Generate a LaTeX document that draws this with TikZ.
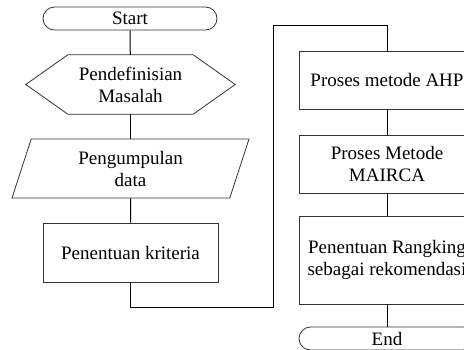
\documentclass[tikz,border=0pt]{standalone}
\usepackage{fontspec}
\setmainfont{Liberation Serif}
\usetikzlibrary{shapes.geometric,calc}
\tikzset{
  flowbox/.style={
    rectangle, draw=#1, line width=0.8pt,
    minimum width=176pt, minimum height=58pt,
    align=center, inner sep=2pt
  },
  flowbox/.default=black!80,
  termbox/.style={
    flowbox, rounded corners=11.5pt, minimum height=23pt
  },
  iobox/.style={
    trapezium, draw=black!80, line width=0.8pt,
    trapezium left angle=64, trapezium right angle=116,
    trapezium stretches body,
    minimum width=237pt, minimum height=59pt,
    align=center, inner sep=2pt
  },
  hexcore/.style={
    rectangle, minimum width=125pt, minimum height=59pt,
    align=center, inner sep=0pt
  },
  flowline/.style={
    line width=1pt, color=black
  },
}

\begin{document}
\begin{tikzpicture}[x=1pt, y=1pt, font=\fontsize{19}{22}\selectfont]
  \useasboundingbox (0,0) rectangle (464,-349);
  \clip (0,0) rectangle (464,-349);
  % left column
  \node[termbox, minimum width=174pt] (start) at (130,-18.5) {Start};
  \node[hexcore] (hexa) at (130.5,-84.5) {Pendefinisian\\Masalah};
  \draw[black!80, line width=0.8pt] (hexa.north west) -- (hexa.north east)
    -- ($(hexa.east)+(42,0)$) -- (hexa.south east) -- (hexa.south west)
    -- ($(hexa.west)+(-42,0)$) -- cycle;
  \node[iobox] (pengum) at (130.5,-168.5) {Pengumpulan\\data};
  \node[flowbox, minimum width=175pt, minimum height=59pt] (kriteria) at (130.5,-252.5) {Penentuan kriteria};
  % right column
  \node[flowbox] (ahp) at (387,-80) {Proses metode AHP};
  \node[flowbox] (mairca) at (387,-164) {Proses Metode\\MAIRCA};
  \node[flowbox, minimum height=88pt] (rangking) at (387,-260) {Penentuan Rangking\\sebagai rekomendasi};
  \node[termbox] (stop) at (387,-338.5) {End};
  % connectors
  \coordinate (bend1) at (273,-307);
  \coordinate (bend2) at (273,-25);
  \draw[flowline] (start) -- (hexa);
  \draw[flowline] (hexa) -- (pengum);
  \draw[flowline] (pengum) -- (kriteria);
  \draw[flowline] (kriteria.south) |- (bend1) -- (bend2) -| (ahp.north);
  \draw[flowline] (ahp) -- (mairca);
  \draw[flowline] (mairca) -- (rangking);
  \draw[flowline] (rangking) -- (stop);
\end{tikzpicture}
\end{document}
